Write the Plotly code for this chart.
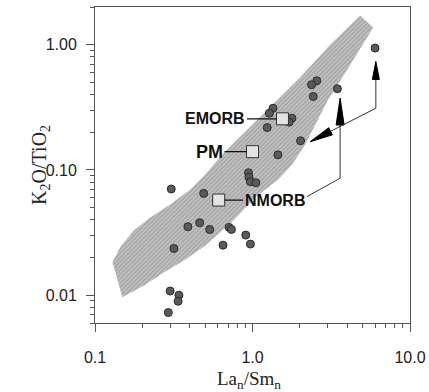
import numpy as np
import plotly.graph_objects as go

# ---------------- data ----------------
# samples: La_n/Sm_n vs K2O/TiO2
la_sm = [6.0, 2.56, 2.37, 2.43, 3.46, 1.35, 1.28, 1.78, 1.71, 1.24, 2.02, 1.45,
         0.943, 0.95, 0.97, 1.05, 0.305, 0.49, 0.59, 0.389, 0.462, 0.535, 0.71, 0.735,
         0.906, 0.97, 0.65, 0.317, 0.30, 0.341, 0.337, 0.292]
k2o_tio2 = [0.94, 0.515, 0.479, 0.386, 0.445, 0.311, 0.284, 0.259, 0.241, 0.218, 0.171, 0.132,
            0.095, 0.0875, 0.0806, 0.079, 0.0705, 0.065, 0.0565, 0.0352, 0.0379, 0.0335, 0.0348, 0.0335,
            0.0302, 0.0256, 0.0251, 0.0236, 0.0108, 0.0100, 0.00895, 0.00727]

# reference reservoirs
ref_names = ["EMORB", "PM", "NMORB"]
ref_x = [1.55, 1.0, 0.61]
ref_y = [0.256, 0.14, 0.0575]

# mantle array band outline
band_x = [4.82, 3.11, 2.00, 1.49, 1.11, 0.83, 0.667, 0.497, 0.399, 0.297, 0.222, 0.178, 0.147, 0.129,
          0.149, 0.206, 0.276, 0.371, 0.497, 0.717, 1.065, 1.45, 1.78, 2.15, 2.49, 3.02, 3.99, 5.84]
band_y = [1.71, 1.00, 0.545, 0.377, 0.261, 0.184, 0.139, 0.0912, 0.0692, 0.0525, 0.0413, 0.0331, 0.0251, 0.0184,
          0.00964, 0.012, 0.0153, 0.0191, 0.0247, 0.037, 0.0619, 0.0832, 0.11, 0.158, 0.229, 0.363, 0.631, 1.37]

# vector lines (no head)
link_x = [2.21, 3.6]
link_y = [0.0611, 0.0859]
# vectors with heads
arrow_tail_x = [3.6, 6.07, 6.07]
arrow_tail_y = [0.0859, 0.311, 0.311]
arrow_tip_x = [3.6, 6.07, 2.32]
arrow_tip_y = [0.375, 0.735, 0.168]

x_tickvals = [0.1, 1.0, 10.0]
x_ticktext = ["0.1", "1.0", "10.0"]
y_tickvals = [0.01, 0.1, 1.0]
y_ticktext = ["0.01", "0.10", "1.00"]

# ---------------- layout geometry ----------------
W, H = 429, 392
ML, MR, MT, MB = 95, 19, 7, 69
XR = [-1.0, 1.0]
YR = [np.log10(0.006), np.log10(2.0)]
PX = (W - ML - MR) / (XR[1] - XR[0])   # pixels per decade x
PY = (H - MT - MB) / (YR[1] - YR[0])   # pixels per decade y

head_len = [27, 18, 23]
head_wid = [8, 7, 8]

fig = go.Figure()

fig.add_trace(go.Scatter(
    x=band_x + [band_x[0]], y=band_y + [band_y[0]], mode="lines", fill="toself",
    line=dict(width=0, color="rgba(0,0,0,0)"),
    fillcolor="#bdbdbd",
    fillpattern=dict(shape="/", fgcolor="#7e7e7e", bgcolor="#c4c4c4", size=3, solidity=0.45),
    hoverinfo="skip", showlegend=False))

fig.add_trace(go.Scatter(x=link_x, y=link_y, mode="lines",
                         line=dict(color="#333", width=1), showlegend=False))

for i in range(len(arrow_tip_x)):
    tx, ty = np.log10(arrow_tip_x[i]) * PX, np.log10(arrow_tip_y[i]) * PY
    sx, sy = np.log10(arrow_tail_x[i]) * PX, np.log10(arrow_tail_y[i]) * PY
    d = np.array([tx - sx, ty - sy])
    d = d / np.hypot(*d)
    n = np.array([-d[1], d[0]])
    b = np.array([tx, ty]) - head_len[i] * d
    p1 = b + head_wid[i] / 2 * n
    p2 = b - head_wid[i] / 2 * n
    fig.add_trace(go.Scatter(
        x=[arrow_tail_x[i], 10 ** (b[0] / PX)], y=[arrow_tail_y[i], 10 ** (b[1] / PY)],
        mode="lines", line=dict(color="#333", width=1), showlegend=False))
    hx = [tx, p1[0], p2[0], tx]
    hy = [ty, p1[1], p2[1], ty]
    fig.add_trace(go.Scatter(
        x=[10 ** (v / PX) for v in hx], y=[10 ** (v / PY) for v in hy],
        mode="lines", fill="toself", fillcolor="#000", line=dict(color="#000", width=1),
        showlegend=False))

fig.add_trace(go.Scatter(
    x=la_sm, y=k2o_tio2, mode="markers",
    marker=dict(size=8, color="#5a5a5a", line=dict(color="#2a2a2a", width=1)),
    showlegend=False))

fig.add_trace(go.Scatter(
    x=ref_x, y=ref_y, mode="markers",
    marker=dict(symbol="square", size=12, color="#e4e4e4", line=dict(color="#333", width=1)),
    showlegend=False))

label_dx = [-67, -43, 56]
label_size = [16, 18, 16]
for i in range(len(ref_names)):
    fig.add_annotation(
        x=np.log10(ref_x[i]), y=np.log10(ref_y[i]), xref="x", yref="y",
        text="<b>" + ref_names[i] + "</b>", showarrow=True, arrowhead=0,
        arrowwidth=1.2, arrowcolor="#111", ax=label_dx[i], ay=0, standoff=6,
        font=dict(family="Liberation Sans, Arial", size=label_size[i], color="#111"))

fig.add_annotation(
    xref="paper", yref="paper", x=-0.175, y=0.5, xanchor="center", yanchor="middle",
    textangle=-90, showarrow=False,
    text="K<sub>2</sub>O/TiO<sub>2</sub>",
    font=dict(family="Liberation Serif, Times New Roman", size=20, color="#222"))
fig.add_annotation(
    xref="paper", yref="paper", x=0.489, y=-0.179, xanchor="center", yanchor="middle",
    showarrow=False,
    text="La<sub>n</sub>/Sm<sub>n</sub>",
    font=dict(family="Liberation Serif, Times New Roman", size=19, color="#222"))

axis_common = dict(showline=True, linecolor="#555", linewidth=1, mirror=True,
                   showgrid=False, zeroline=False, ticks="outside", tickcolor="#555",
                   ticklen=8, tickwidth=1, automargin=False,
                   tickfont=dict(family="Liberation Sans, Arial", size=16, color="#222"))

fig.update_xaxes(type="log", range=XR, tickmode="array", tickvals=x_tickvals,
                 ticktext=x_ticktext, ticklabelstandoff=12,
                 minor=dict(dtick="D1", ticks="outside", ticklen=4, tickcolor="#555",
                            showgrid=False),
                 **axis_common)
fig.update_yaxes(type="log", range=YR, tickmode="array", tickvals=y_tickvals,
                 ticktext=y_ticktext, ticklabelstandoff=6,
                 minor=dict(dtick="D1", ticks="outside", ticklen=4, tickcolor="#555",
                            showgrid=False),
                 **axis_common)

fig.update_layout(width=W, height=H, margin=dict(l=ML, r=MR, t=MT, b=MB),
                  paper_bgcolor="white", plot_bgcolor="white", showlegend=False)

fig.write_html("out.html", config={"displayModeBar": False},
               post_script="document.body.style.margin='0';document.body.style.overflow='hidden';")
